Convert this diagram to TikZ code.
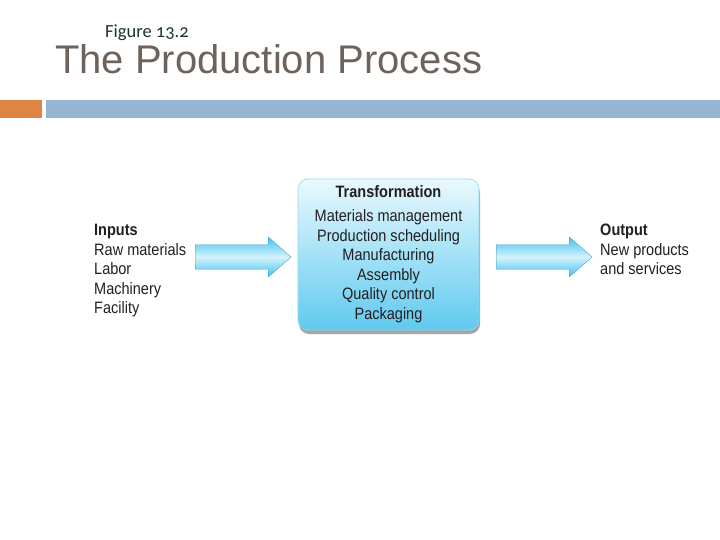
\documentclass[tikz,border=0pt]{standalone}
\usepackage{fontspec}
\usetikzlibrary{shapes.arrows}
\usetikzlibrary{shadows}
\setmainfont{Liberation Sans}
\newfontfamily\condfont[FakeStretch=0.88]{Liberation Sans}
\newfontfamily\figfont[Numbers=OldStyle]{Carlito}
\definecolor{titlegray}{HTML}{6E625D}
\definecolor{barorange}{HTML}{DE8445}
\definecolor{barblue}{HTML}{95B5D1}
\definecolor{inktext}{HTML}{231F20}
\definecolor{skyfill}{HTML}{43C0EC}
\definecolor{skylight}{HTML}{D4F3FD}
\tikzset{
  listtext/.style={font=\condfont\fontsize{16.5}{19.6}\selectfont, text=inktext, inner sep=0pt},
  blockarrow/.style={single arrow, anchor=west, inner xsep=0pt, inner ysep=11pt, minimum width=40pt, minimum height=96pt,
    single arrow tip angle=82, draw=skyfill!80!black, line width=0.3pt,
    top color=skyfill, bottom color=skyfill, middle color=skylight},
  stagebox/.style={rounded corners=10pt, minimum width=181pt, minimum height=151pt, align=center,
    draw=skyfill!60, line width=0.6pt, top color=skylight!50!white, bottom color=skyfill!85,
    drop shadow={shadow xshift=1pt, shadow yshift=-4pt, opacity=0.35, fill=black}}
}
\begin{document}
\begin{tikzpicture}[x=1pt,y=-1pt]
  \useasboundingbox (0,0) rectangle (720,540);
  % heading
  \node[anchor=base west, inner sep=0pt, font=\figfont\fontsize{18.5}{20}\selectfont, text=inktext!80!teal] (fig) at (105,38) {Figure 13.2};
  \node[anchor=base west, inner sep=0pt, font=\fontsize{40}{44}\selectfont, text=titlegray] (title) at (55,74) {The Production Process};
  \fill[barorange] (0,100) rectangle (42,118);
  \fill[barblue] (46,100) rectangle (720,118);

  % flow
  \node[listtext, anchor=north west, align=left] (inputs) at (94,224)
    {{\bfseries Inputs}\\Raw materials\\Labor\\Machinery\\Facility};
  \node[blockarrow] (arrowin) at (195,257) {};
  \node[stagebox, listtext] (transform) at (388.5,254.5)
    {{\bfseries Transformation}\\[4pt]Materials management\\Production scheduling\\Manufacturing\\Assembly\\Quality control\\Packaging};
  \node[blockarrow] (arrowout) at (496,257) {};
  \node[listtext, anchor=north west, align=left] (outputs) at (600,224)
    {{\bfseries Output}\\New products\\and services};
\end{tikzpicture}
\end{document}
